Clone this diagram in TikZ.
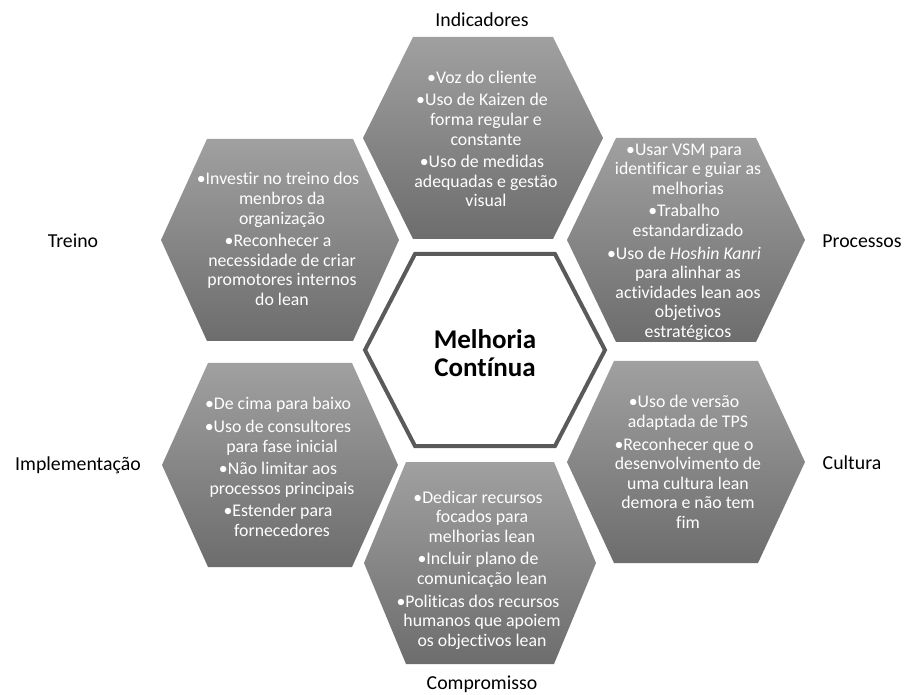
\documentclass[tikz,border=0pt]{standalone}
\usepackage{fontspec}
\setmainfont{Carlito}[Ligatures={NoCommon}]
\definecolor{petaltop}{HTML}{A0A0A0}
\definecolor{petalbot}{HTML}{6D6D6D}
\definecolor{coreline}{HTML}{5A5A5A}
% hexagon with flat top: style, centre x, centre y, half width, half top edge, half height
\newcommand\hexshape[6]{%
  \path[#1] (#2-#4,#3) -- (#2-#5,#3-#6) -- (#2+#5,#3-#6) -- (#2+#4,#3)
    -- (#2+#5,#3+#6) -- (#2-#5,#3+#6) -- cycle;}
% hanging indent of a wrapped bullet line
\newcommand\hang{\hspace*{8pt}}
\begin{document}
\begin{tikzpicture}[x=1pt,y=-1pt,
  petal/.style={top color=petaltop, bottom color=petalbot, draw=none},
  core/.style={fill=white, draw=coreline, line width=4pt, line join=miter},
  petaltext/.style={text=white, align=center, inner sep=0pt,
    font=\fontsize{17.8}{19.6}\selectfont},
  caption/.style={text=black, inner sep=0pt, font=\fontsize{19.8}{22}\selectfont},
  coretext/.style={align=center, inner sep=0pt, font=\fontsize{27}{28.5}\selectfont\bfseries}]
\useasboundingbox[fill=white] (0,0) rectangle (906,695);

% outer ring of hexagons
\hexshape{petal}{483}{138}{120}{70}{101}
\hexshape{petal}{280}{240}{119}{73}{101}
\hexshape{petal}{686}{240}{119}{70}{102}
\hexshape{petal}{280}{465}{118}{72}{102}
\hexshape{petal}{686}{462}{119}{72}{101}
\hexshape{petal}{480}{563}{116}{74}{101}
% central hexagon
\hexshape{core}{485}{350}{120}{70}{96}

\node[coretext] (core) at (485,353) {Melhoria\\Contínua};

\node[petaltext] (ind) at (482,139) {•Voz do cliente\\[3pt]
  •Uso de Kaizen de\\\hang forma regular e\\\hang constante\\[3pt]
  •Uso de medidas\\\hang adequadas e gestão\\\hang visual};
\node[petaltext] (tre) at (278,239) {•Investir no treino dos\\\hang menbros da\\\hang organização\\[3pt]
  •Reconhecer a\\\hang necessidade de criar\\\hang promotores internos\\\hang do lean};
\node[petaltext] (pro) at (684,242) {•Usar VSM para\\\hang identificar e guiar as\\\hang melhorias\\[3pt]
  •Trabalho\\\hang estandardizado\\[3pt]
  •Uso de \textit{Hoshin Kanri}\\\hang para alinhar as\\\hang actividades lean aos\\\hang objetivos\\\hang estratégicos};
\node[petaltext] (imp) at (278,467) {•De cima para baixo\\[3pt]
  •Uso de consultores\\\hang para fase inicial\\[3pt]
  •Não limitar aos\\\hang processos principais\\[3pt]
  •Estender para\\\hang fornecedores};
\node[petaltext] (cul) at (684,462) {•Uso de versão\\\hang adaptada de TPS\\[3pt]
  •Reconhecer que o\\\hang desenvolvimento de\\\hang uma cultura lean\\\hang demora e não tem\\\hang fim};
\node[petaltext] (com) at (478,570) {•Dedicar recursos\\\hang focados para\\\hang melhorias lean\\[3pt]
  •Incluir plano de\\\hang comunicação lean\\[3pt]
  •Politicas dos recursos\\\hang humanos que apoiem\\\hang os objectivos lean};

% headings around the ring
\node[caption] (lind) at (482,20) {Indicadores};
\node[caption] (ltre) at (73,241) {Treino};
\node[caption] (lpro) at (862,241) {Processos};
\node[caption] (limp) at (78,465) {Implementação};
\node[caption] (lcul) at (852,463) {Cultura};
\node[caption] (lcom) at (482,684) {Compromisso};
\end{tikzpicture}
\end{document}
